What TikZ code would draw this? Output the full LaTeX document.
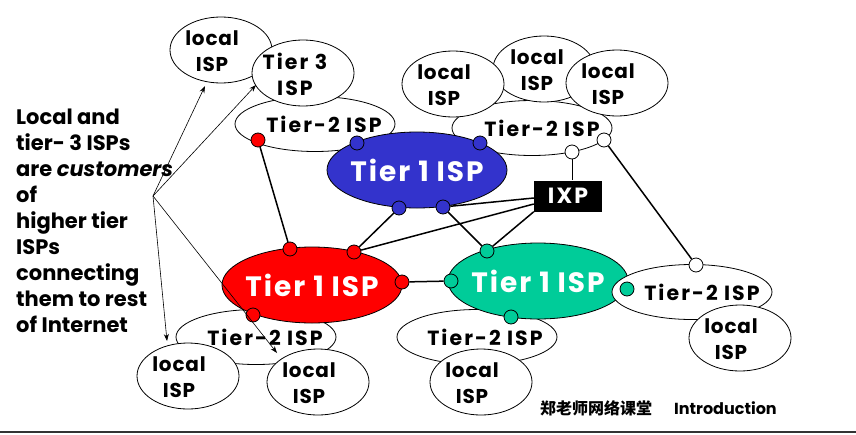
\documentclass[tikz,border=0pt]{standalone}
\usepackage{fontspec}
\setmainfont{Poppins}
\newfontfamily\widefont{Poppins}[LetterSpace=10]
\newfontfamily\bigfont{Poppins}[LetterSpace=7]
\newfontfamily\midfont{Poppins}[LetterSpace=4]
\newfontfamily\cjk{Noto Sans CJK SC}
\usetikzlibrary{shapes.geometric,arrows.meta,calc}
\definecolor{tblue}{RGB}{51,51,204}
\definecolor{tred}{RGB}{255,0,0}
\definecolor{tgreen}{RGB}{0,204,153}
\tikzset{
  localisp/.style={ellipse,draw=black,fill=white,line width=0.8pt,minimum width=102pt,minimum height=66pt,inner sep=0pt},
  tiertwo/.style={ellipse,draw=black,fill=white,line width=0.8pt,minimum width=160pt,minimum height=55pt,inner sep=0pt},
  tierone/.style={ellipse,draw=black,line width=0.8pt,minimum width=180pt,minimum height=76pt,inner sep=0pt},
  onelbl/.style={inner sep=0pt,font=\bigfont\fontsize{28}{30}\selectfont\bfseries,text=white},
  lbl/.style={inner sep=0pt,align=center,font=\midfont\fontsize{20}{26}\selectfont\bfseries},
  tlbl/.style={inner sep=0pt,align=center,font=\widefont\fontsize{20.5}{26}\selectfont\bfseries},
  dot/.style={circle,draw=black,line width=0.8pt,minimum size=14pt,inner sep=0pt},
  link/.style={line width=1.5pt},
  note/.style={line width=0.6pt,-{Stealth[length=7pt,width=5pt]}},
}
\begin{document}
\begin{tikzpicture}[x=1pt,y=-1pt]
\useasboundingbox (0,0) rectangle (856,434);
% top-left group
\node[localisp] (la) at (221,50) {};
\node[tiertwo] (t2a) at (315,124) {};
\node[localisp] (t3) at (303,73) {};
% top-right group
\node[tiertwo] (t2b) at (532,128) {};
\node[localisp] (lc2) at (544,69) {};
\node[localisp] (lc1) at (453,84) {};
\node[localisp] (lc3) at (617,83) {};
% blue tier 1
\node[tierone,fill=tblue] (blue) at (417,170) {};
\node[onelbl] (blue-t) at (417,170) {Tier 1 ISP};
% bottom-left group
\node[tiertwo] (t2c) at (256,337) {};
\node[localisp] (lb1) at (188,376) {};
\node[localisp] (lb2) at (318,382) {};
\node[tierone,fill=tred] (red) at (312,285) {};
\node[onelbl] (red-t) at (312,285) {Tier 1 ISP};
% bottom-middle group
\node[tiertwo] (t2d) at (477,337) {};
\node[tierone,fill=tgreen] (green) at (538,281) {};
\node[localisp] (lb3) at (481,382) {};
% right group
\node[tiertwo] (t2e) at (692,292) {};
\node[localisp] (lr) at (740,338) {};
\node[onelbl] (green-t) at (538,281) {Tier 1 ISP};
% IXP
\node[fill=black,text=white,minimum width=68pt,minimum height=31pt,inner sep=0pt,font=\widefont\fontsize{22}{24}\selectfont\bfseries] (ixp) at (568,196) {IXP};
% labels
\node[lbl] (la-t) at ($(la)+(-9,1)$) {local\\ISP};
\node[tlbl] (t3-t) at ($(t3)+(-8,1)$) {Tier 3\\ISP};
\node[lbl] (lc1-t) at ($(lc1)+(-9,1)$) {local\\ISP};
\node[lbl] (lc2-t) at ($(lc2)+(-7,1)$) {local\\ISP};
\node[lbl] (lc3-t) at ($(lc3)+(-9,1)$) {local\\ISP};
\node[lbl] (lb1-t) at ($(lb1)+(-9,1)$) {local\\ISP};
\node[lbl] (lb2-t) at ($(lb2)+(-9,1)$) {local\\ISP};
\node[lbl] (lb3-t) at ($(lb3)+(-9,1)$) {local\\ISP};
\node[lbl] (lr-t) at ($(lr)+(-9,1)$) {local\\ISP};
\node[tlbl] (t2a-t) at ($(t2a)+(9,0)$) {Tier-2 ISP};
\node[tlbl] (t2b-t) at ($(t2b)+(10,0)$) {Tier-2 ISP};
\node[tlbl] (t2c-t) at ($(t2c)+(9,0)$) {Tier-2 ISP};
\node[tlbl] (t2d-t) at ($(t2d)+(8,0)$) {Tier-2 ISP};
\node[tlbl] (t2e-t) at ($(t2e)+(10,0)$) {Tier-2 ISP};
% dots
\node[dot,fill=tred] (r1) at (258,140) {};
\node[dot,fill=tred] (r2) at (290,249) {};
\node[dot,fill=tred] (r3) at (354,252) {};
\node[dot,fill=tred] (r4) at (402,282) {};
\node[dot,fill=tred] (r5) at (253,315) {};
\node[dot,fill=tblue] (b1) at (357,143) {};
\node[dot,fill=tblue] (b2) at (480,143) {};
\node[dot,fill=tblue] (b3) at (399,208) {};
\node[dot,fill=tblue] (b4) at (443,207) {};
\node[dot,fill=tgreen] (g1) at (487,251) {};
\node[dot,fill=tgreen] (g2) at (451,281) {};
\node[dot,fill=tgreen] (g3) at (627,289) {};
\node[dot,fill=tgreen] (g4) at (511,317) {};
\node[dot,fill=white] (w1) at (572,152) {};
\node[dot,fill=white] (w2) at (604,140) {};
\node[dot,fill=white] (w3) at (696,265) {};
% links
\draw[link] (r1) -- (r2);
\draw[link] (b3) -- (r3);
\draw[link] (b4) -- (g1);
\draw[link] (r4) -- (g2);
\draw[link] (w2) -- (w3);
\draw[line width=0.8pt] (w1) -- (w1 |- ixp.north);
\draw[link] (b4) -- ($(ixp.west)+(0,2)$);
\draw[link] (r3) -- ($(ixp.west)+(0,8)$);
\draw[link] (g1) -- (ixp.south west);
% note text
\node[anchor=north west,align=left,inner sep=0pt,font=\fontsize{21}{26}\selectfont\bfseries] (note) at (16,109)
  {Local and\\tier- 3 ISPs\\are \textit{customers}\\of\\higher tier\\ISPs\\connecting\\them to rest\\of Internet};
\coordinate (src) at (153,196);
\coordinate (a1) at (205,86);
\coordinate (a2) at (256,85);
\coordinate (a3) at (167,341);
\coordinate (a4) at (277,353);
\draw[note] (src) -- (a1);
\draw[note] (src) -- (a2);
\draw[note] (src) -- (a3);
\draw[note] (src) -- (a4);
% footer
\node[anchor=west,inner sep=0pt,font=\fontsize{16}{18}\selectfont\bfseries] (foot) at (540,408) {{\cjk 郑老师网络课堂}\hspace{22pt}Introduction};
\coordinate (hl) at (0,432);
\coordinate (hr) at (856,432);
\draw[line width=2pt,black!80] (hl) -- (hr);
\end{tikzpicture}
\end{document}
